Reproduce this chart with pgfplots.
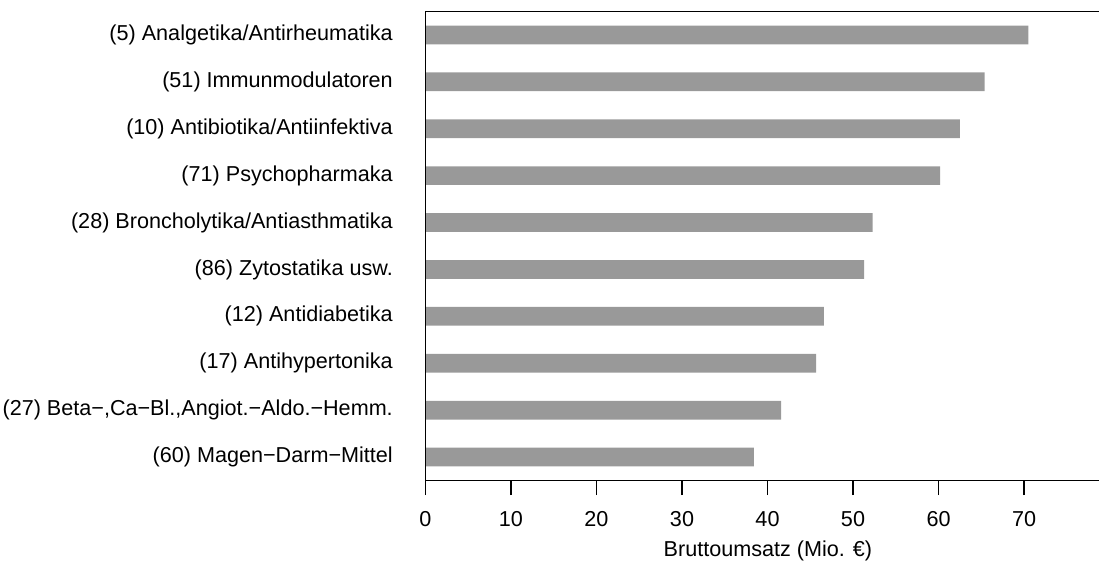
\documentclass[border=0pt]{standalone}
\usepackage{pgfplots}
\pgfplotsset{compat=1.18}
\usepackage{fontspec}
\setmainfont{Liberation Sans}
\definecolor{bargray}{HTML}{999999}
\begin{document}
\fontsize{21.6bp}{26bp}\selectfont
\begin{tikzpicture}
\path[use as bounding box] (-425.5bp,-83.5bp) rectangle (673.5bp,480.5bp);
\begin{axis}[
  at={(0,0)}, anchor=south west,
  scale only axis,
  width=673.5bp, height=469bp,
  xmin=0, xmax=78.77,
  ymin=0.5, ymax=10.5,
  xbar, bar width=18.7bp, bar shift=0pt,
  axis line style={draw=none},
  clip=false,
  xtick={0,10,20,30,40,50,60,70},
  xtick pos=bottom,
  tick align=outside,
  major tick length=14.5bp,
  xtick style={line width=1.2bp, black},
  ytick={1,2,3,4,5,6,7,8,9,10},
  ytick style={draw=none},
  yticklabels={
    (60) Magen−Darm−Mittel,
    (27) Beta−{,}Ca−Bl.{,}Angiot.−Aldo.−Hemm.,
    (17) Antihypertonika,
    (12) Antidiabetika,
    (86) Zytostatika usw.,
    (28) Broncholytika/Antiasthmatika,
    (71) Psychopharmaka,
    (10) Antibiotika/Antiinfektiva,
    (51) Immunmodulatoren,
    (5) Analgetika/Antirheumatika},
  yticklabel style={anchor=east, inner sep=0pt, xshift=-18bp},
  xticklabel style={anchor=base, inner sep=0pt, yshift=-31.5bp},
  /pgf/number format/assume math mode=true,
  xlabel={Bruttoumsatz (Mio. €)},
  xlabel style={at={(rel axis cs:0.5085,0)}, anchor=base, inner sep=0pt, yshift=-75.5bp},
  every axis label/.append style={font=\fontsize{21.6bp}{26bp}\selectfont},
  tick label style={font=\fontsize{21.6bp}{26bp}\selectfont},
]
\addplot[fill=bargray, draw=none] coordinates {
  (38.4,1) (41.6,2) (45.7,3) (46.6,4) (51.3,5)
  (52.3,6) (60.2,7) (62.5,8) (65.4,9) (70.5,10)};
\draw[line width=1.2bp, black] (rel axis cs:1.01,1) -- (rel axis cs:0,1) -- (rel axis cs:0,0) -- (rel axis cs:1.01,0);
\end{axis}
\end{tikzpicture}
\end{document}
